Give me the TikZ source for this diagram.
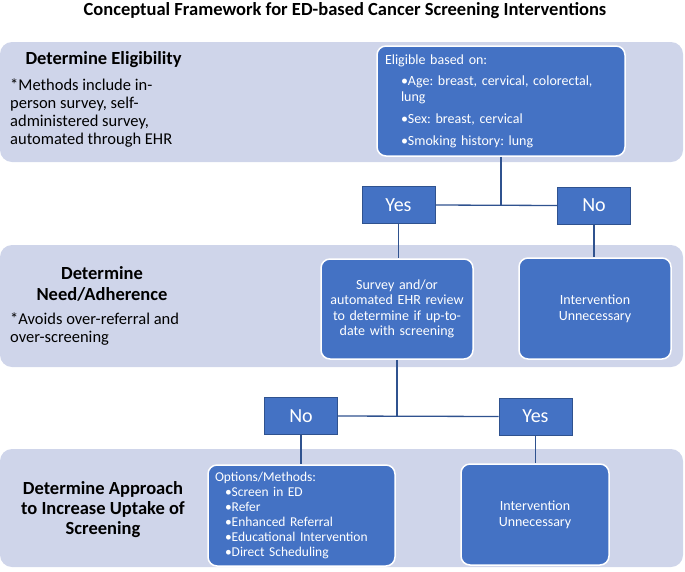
\documentclass[tikz,border=0pt]{standalone}
\usepackage{fontspec}
\setmainfont{Carlito}
\usetikzlibrary{positioning}
\definecolor{bandlav}{HTML}{CFD5EA}
\definecolor{boxblue}{HTML}{4472C4}
\definecolor{edgeblue}{HTML}{2F528F}
\newcommand{\optbul}{\hspace*{10pt}\textbullet}
\tikzset{
	band/.style = {fill=bandlav, rounded corners=12pt},
	infobox/.style = {fill=boxblue, draw=white, line width=1.5pt, rounded corners=9pt, text=white, inner sep=0pt},
	choice/.style = {fill=boxblue, draw=edgeblue, line width=1pt, text=white, minimum width=73pt, minimum height=37pt, inner sep=0pt, font=\fontsize{20}{22}\selectfont},
	link/.style = {draw=edgeblue, line width=1.3pt},
	headtext/.style = {font=\bfseries\fontsize{18.5}{21}\selectfont, align=center},
	notetext/.style = {font=\fontsize{16.5}{18}\selectfont, align=left, inner sep=0pt, anchor=north west}
}
\begin{document}
\frenchspacing
\begin{tikzpicture}[x=1pt,y=-1pt]
	\useasboundingbox (0,0) rectangle (685,571);
	\node [font=\bfseries\fontsize{18.5}{20}\selectfont] (title) at (345,11) {Conceptual Framework for ED-based Cancer Screening Interventions};
	% the three stages
	\fill [band] (0,42) rectangle (683,162);
	\fill [band] (0,245) rectangle (683,367);
	\fill [band] (0,449) rectangle (683,567);
	\node [headtext, anchor=west] (eligHead) at (22,60) {Determine Eligibility};
	\node [notetext] (eligNote) at (10,79) {*Methods include in-\\person survey, self-\\administered survey,\\automated through EHR};
	\node [headtext] (needHead) at (102,284) {Determine\\Need/Adherence};
	\node [notetext] (needNote) at (10,313) {*Avoids over-referral and\\over-screening};
	\node [headtext, font=\bfseries\fontsize{18.5}{20}\selectfont] (uptakeHead) at (103,510) {Determine Approach\\to Increase Uptake of\\Screening};
	% boxes
	\node [infobox, minimum width=248pt, minimum height=110pt, text width=232pt, align=left, font=\fontsize{14}{16}\selectfont] (elig) at (501,101) {Eligible based on:\\[5pt]
		\hspace*{16pt}\textbullet Age: breast, cervical, colorectal,\\
		\hspace*{16pt}lung\\[6pt]
		\hspace*{16pt}\textbullet Sex: breast, cervical\\[6pt]
		\hspace*{16pt}\textbullet Smoking history: lung};
	\node [choice] (yesOne) at (398.5,205) {Yes};
	\node [choice] (noOne) at (594,205.5) {No};
	\node [infobox, minimum width=152pt, minimum height=100pt, text width=144pt, align=center, font=\fontsize{14}{15.5}\selectfont] (survey) at (397,309) {Survey and/or\\automated EHR review\\to determine if up-to-\\date with screening};
	\node [infobox, minimum width=152pt, minimum height=101pt, text width=140pt, align=center, font=\fontsize{14}{16}\selectfont] (skipOne) at (595,308.5) {Intervention\\Unnecessary};
	\node [choice] (noTwo) at (301,416) {No};
	\node [choice] (yesTwo) at (535.5,416.5) {Yes};
	\node [infobox, minimum width=187pt, minimum height=101pt, text width=173pt, align=left, font=\fontsize{13.5}{15}\selectfont] (options) at (301.5,515.5) {Options/Methods:\\
		\optbul Screen in ED\\
		\optbul Refer\\
		\optbul Enhanced Referral\\
		\optbul Educational Intervention\\
		\optbul Direct Scheduling};
	\node [infobox, minimum width=148pt, minimum height=101pt, text width=136pt, align=center, font=\fontsize{14}{16}\selectfont] (skipTwo) at (535,514.5) {Intervention\\Unnecessary};
	% connectors
	\draw [link] (elig.south) -- (elig.south |- yesOne.east);
	\draw [link] (yesOne.east) -- (noOne.west);
	\draw [link] (yesOne.south) -- (yesOne.south |- survey.north);
	\draw [link] (noOne.south) -- (noOne.south |- skipOne.north);
	\draw [link] (survey.south) -- (survey.south |- noTwo.east);
	\draw [link] (noTwo.east) -- (yesTwo.west);
	\draw [link] (noTwo.south) -- (noTwo.south |- options.north);
	\draw [link] (yesTwo.south) -- (yesTwo.south |- skipTwo.north);
\end{tikzpicture}
\end{document}
